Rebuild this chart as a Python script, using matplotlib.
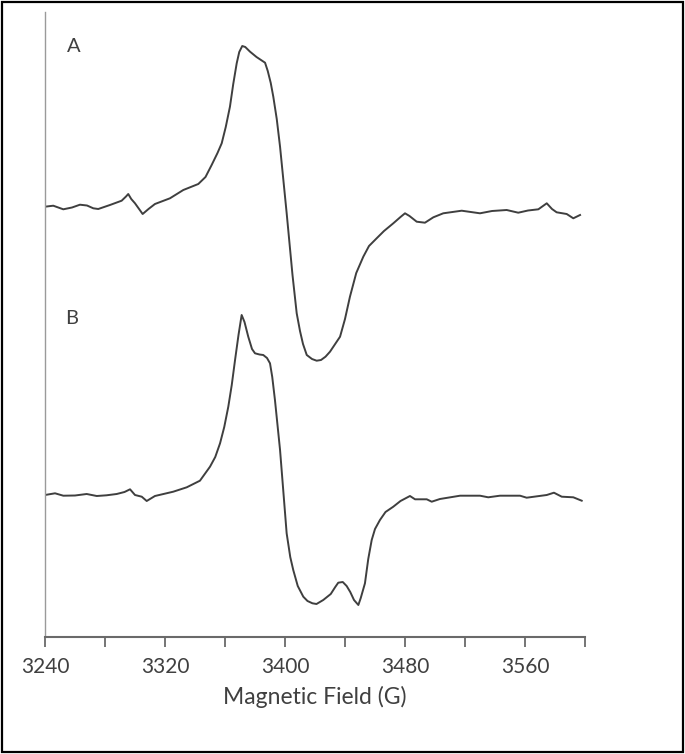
import matplotlib
matplotlib.use("Agg")
import matplotlib.pyplot as plt
from matplotlib.patches import Rectangle

# spectrum A: field (G) and derivative intensity (arbitrary units, baseline 0)
field_a = [3240.0, 3245.5, 3252.2, 3258.0, 3263.3, 3268.0, 3272.2, 3275.5, 3283.3, 3291.1,
           3294.0, 3295.5, 3297.5, 3300.0, 3305.1, 3309.0, 3313.3, 3323.3, 3332.2, 3342.2,
           3347.0, 3351.1, 3355.0, 3357.8, 3360.5, 3363.3, 3365.5, 3367.8, 3369.5, 3371.5,
           3373.5, 3376.7, 3381.0, 3386.7, 3388.5, 3390.5, 3392.2, 3394.5, 3396.7, 3401.1,
           3405.0, 3407.8, 3410.0, 3412.0, 3414.5, 3418.0, 3421.1, 3424.0, 3427.0, 3430.0,
           3436.7, 3440.0, 3443.3, 3447.5, 3452.2, 3456.0, 3461.1, 3466.0, 3472.2, 3477.0,
           3480.0, 3483.0, 3487.8, 3493.3, 3498.9, 3505.5, 3517.8, 3530.0, 3538.0, 3547.8,
           3555.5, 3562.0, 3568.9, 3574.5, 3578.0, 3581.1, 3587.8, 3592.2, 3596.7]
signal_a = [0.3, 1.3, -2.3, -0.5, 2.3, 1.5, -1.3, -2.0, 2.0, 6.3,
            10.5, 13.0, 8.0, 3.7, -7.0, -2.0, 3.0, 8.7, 17.0, 23.0,
            30.0, 42.0, 54.0, 63.7, 80.0, 100.3, 123.0, 143.7, 155.0, 161.0,
            160.0, 155.3, 150.0, 144.3, 136.0, 124.0, 110.3, 88.0, 60.3, -6.0,
            -68.0, -106.3, -124.0, -137.0, -148.0, -152.0, -153.7, -153.0, -149.7, -144.7,
            -129.7, -112.0, -89.7, -66.0, -49.7, -39.0, -31.3, -24.0, -16.3, -10.0,
            -6.3, -9.0, -14.7, -15.7, -10.3, -6.3, -3.7, -6.3, -4.0, -3.0,
            -5.7, -3.5, -2.3, 3.7, -2.0, -5.3, -7.0, -11.3, -8.0]

# spectrum B
field_b = [3240.0, 3246.7, 3252.2, 3260.0, 3267.8, 3274.5, 3281.0, 3287.8, 3293.0, 3296.7,
           3300.0, 3304.5, 3307.8, 3313.3, 3325.5, 3334.5, 3343.3, 3350.0, 3353.5, 3356.7,
           3359.5, 3362.2, 3364.5, 3366.7, 3369.0, 3371.1, 3373.0, 3375.5, 3378.0, 3380.0,
           3383.0, 3385.5, 3388.0, 3390.0, 3391.5, 3393.3, 3396.7, 3401.1, 3403.5, 3405.5,
           3408.5, 3412.2, 3415.0, 3418.3, 3421.0, 3425.5, 3430.5, 3433.5, 3435.5, 3438.5,
           3441.1, 3443.5, 3446.0, 3448.9, 3450.5, 3453.3, 3455.5, 3457.8, 3460.0, 3463.3,
           3467.0, 3472.2, 3477.0, 3483.3, 3486.7, 3494.5, 3497.8, 3503.3, 3516.7, 3530.0,
           3535.5, 3543.3, 3556.7, 3561.1, 3574.5, 3579.3, 3584.5, 3592.2, 3597.8]
signal_b = [0.0, 1.7, -0.7, -0.5, 1.0, -1.0, -0.3, 1.0, 3.0, 5.7,
            0.0, -1.7, -6.0, -1.0, 3.3, 7.7, 14.3, 28.3, 38.0, 51.7,
            68.0, 88.3, 110.0, 135.0, 160.0, 180.0, 173.0, 158.3, 146.0, 141.7,
            140.5, 140.0, 137.0, 131.7, 118.0, 95.0, 45.0, -38.3, -62.0, -75.0,
            -91.0, -101.7, -106.0, -108.3, -109.0, -105.0, -99.0, -92.0, -87.7, -87.0,
            -91.0, -97.0, -105.0, -110.0, -103.0, -88.3, -64.0, -45.0, -34.0, -25.0,
            -17.0, -11.7, -6.0, -1.0, -4.3, -4.3, -6.7, -4.0, -0.7, -0.7,
            -2.3, -0.7, -0.7, -2.7, 0.0, 2.3, -1.7, -2.3, -5.7]

offset_a = 430
offset_b = 142
x_ticks = list(range(3240, 3601, 40))
x_labels = [str(t) if (t - 3240) % 80 == 0 else "" for t in x_ticks]

plt.rcParams["font.family"] = ["Lato", "DejaVu Sans"]
text_color = "#404040"
line_color = "#3f3f3f"

fig = plt.figure(figsize=(6.85, 7.54), dpi=100)
ax = fig.add_axes([45 / 685, 117 / 754, 540 / 685, 625 / 754])

ax.plot(field_a, [v + offset_a for v in signal_a], color=line_color, lw=1.4)
ax.plot(field_b, [v + offset_b for v in signal_b], color=line_color, lw=1.4)

ax.text(3259.3, 590, "A", fontsize=14.5, color=text_color, ha="center", va="center")
ax.text(3258.0, 319, "B", fontsize=14.5, color=text_color, ha="center", va="center")

ax.set_xlim(3240, 3600)
ax.set_ylim(0, 625)
ax.set_xticks(x_ticks)
ax.set_xticklabels(x_labels)
ax.set_yticks([])
for side in ("top", "right"):
    ax.spines[side].set_visible(False)
ax.spines["left"].set_color("#9a9a9a")
ax.spines["left"].set_linewidth(1.0)
ax.spines["bottom"].set_color("#6a6a6a")
ax.spines["bottom"].set_linewidth(1.5)
ax.tick_params(axis="x", direction="out", length=7.5, width=1.3, color="#6a6a6a",
               labelsize=15, labelcolor=text_color, pad=7)
ax.set_xlabel("Magnetic Field (G)", fontsize=16.5, color=text_color, labelpad=6)

fig.patches.append(Rectangle((0.003, 0.003), 0.994, 0.994, transform=fig.transFigure,
                             fill=False, edgecolor="black", lw=1.6))

fig.savefig("out.png", dpi=100)
